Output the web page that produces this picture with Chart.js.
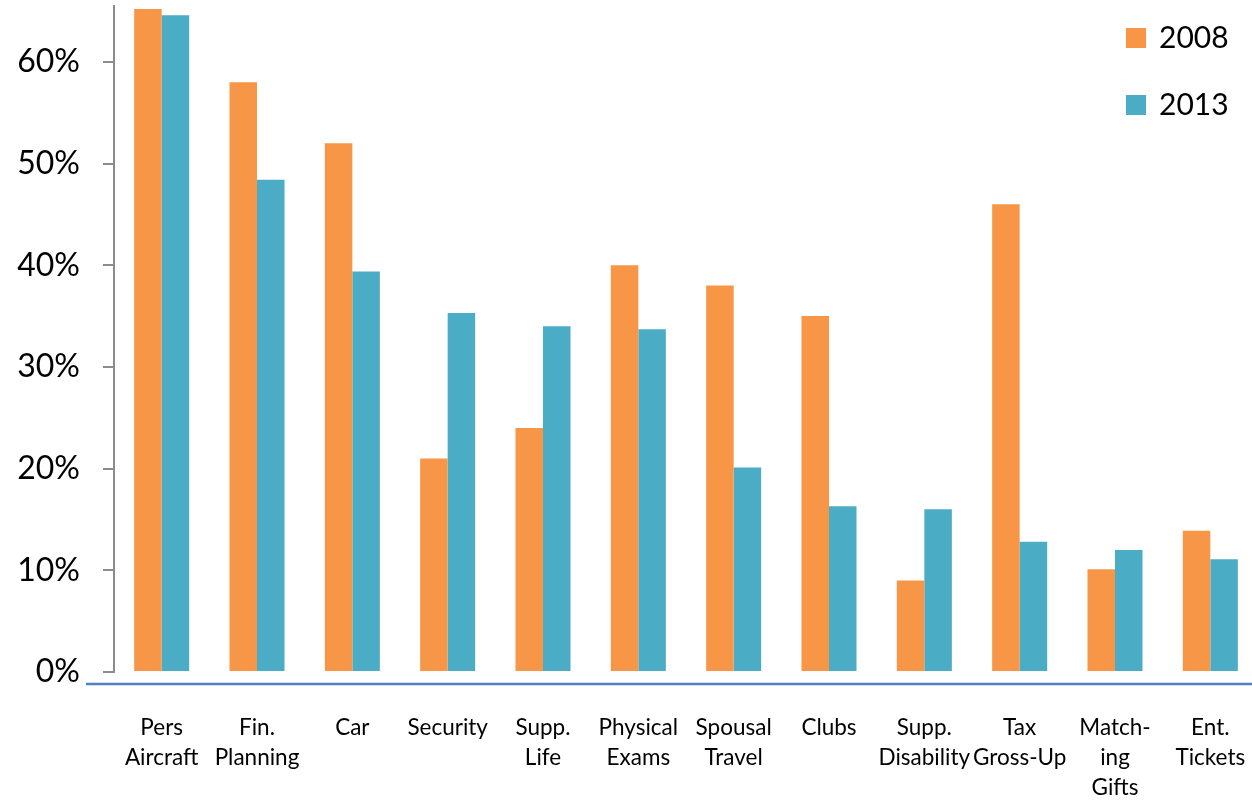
<!DOCTYPE html>
<html lang="en">
<head>
    <meta charset="UTF-8">
    <title>Perquisites 2008 vs 2013</title>
    <script src="https://cdn.jsdelivr.net/npm/chart.js"></script>
    <style>
        html, body { margin: 0; padding: 0; background: #fff; overflow: hidden; }
        #wrap { width: 1258px; height: 805px; }
    </style>
</head>
<body>
    <div id="wrap">
        <canvas id="myChart"></canvas>
    </div>
    <script>
        const categories = [
            ['Pers', 'Aircraft'], ['Fin.', 'Planning'], ['Car'], ['Security'],
            ['Supp.', 'Life'], ['Physical', 'Exams'], ['Spousal', 'Travel'], ['Clubs'],
            ['Supp.', 'Disability'], ['Tax', 'Gross-Up'], ['Match-', 'ing', 'Gifts'], ['Ent.', 'Tickets']
        ];
        const values2008 = [65.2, 58, 52, 21, 24, 40, 38, 35, 9, 46, 10.1, 13.9];
        const values2013 = [64.6, 48.4, 39.4, 35.3, 34, 33.7, 20.1, 16.3, 16, 12.8, 12, 11.1];
        const yTicks = [0, 10, 20, 30, 40, 50, 60];

        const FONT = 'Lato, "Open Sans", sans-serif';

        // blue base line below the bars
        const baseLine = {
            id: 'baseLine',
            afterDraw(chart) {
                const ctx = chart.ctx;
                const y = chart.chartArea.bottom + 12;
                ctx.save();
                ctx.strokeStyle = '#4F81BD';
                ctx.lineWidth = 2.5;
                ctx.beginPath();
                ctx.moveTo(86, y);
                ctx.lineTo(chart.width, y);
                ctx.stroke();
                ctx.restore();
            }
        };

        // vertical legend in the top right corner
        const cornerLegend = {
            id: 'cornerLegend',
            afterDraw(chart) {
                const ctx = chart.ctx;
                ctx.save();
                ctx.font = '30px ' + FONT;
                ctx.textBaseline = 'middle';
                ctx.textAlign = 'left';
                chart.data.datasets.forEach((ds, i) => {
                    const y = 38 + i * 67;
                    ctx.fillStyle = ds.backgroundColor;
                    ctx.fillRect(1126, y - 10, 20, 20);
                    ctx.fillStyle = '#000';
                    ctx.fillText(ds.label, 1159, y);
                });
                ctx.restore();
            }
        };

        const config = {
            type: 'bar',
            data: {
                labels: categories,
                datasets: [
                    { label: '2008', data: values2008, backgroundColor: '#F79646' },
                    { label: '2013', data: values2013, backgroundColor: '#4BACC6' }
                ]
            },
            options: {
                responsive: true,
                maintainAspectRatio: false,
                animation: false,
                layout: { padding: { top: 6, right: 0, left: 0, bottom: 0 } },
                datasets: {
                    bar: { categoryPercentage: 0.577, barPercentage: 1.0 }
                },
                plugins: {
                    legend: { display: false },
                    tooltip: { enabled: false }
                },
                scales: {
                    x: {
                        grid: { display: false, drawTicks: false },
                        border: { display: false },
                        ticks: {
                            color: '#000',
                            font: { family: FONT, size: 22.5, lineHeight: 1.32 },
                            padding: 41,
                            maxRotation: 0,
                            autoSkip: false
                        },
                        afterFit(scale) {
                            scale.height = 133;
                            scale.paddingLeft = 0;
                            scale.paddingRight = 0;
                        }
                    },
                    y: {
                        min: 0,
                        max: 65.5,
                        border: { display: true, color: '#8c8c8c', width: 2 },
                        grid: {
                            drawOnChartArea: false,
                            drawTicks: true,
                            tickLength: 11,
                            color: '#8c8c8c',
                            lineWidth: 2
                        },
                        ticks: {
                            stepSize: 10,
                            color: '#000',
                            padding: 23,
                            font: { family: FONT, size: 32 },
                            callback: v => v + '%'
                        },
                        afterBuildTicks(scale) {
                            scale.ticks = yTicks.map(v => ({ value: v }));
                        },
                        afterFit(scale) {
                            scale.width = 114;
                            scale.paddingTop = 0;
                            scale.paddingBottom = 0;
                        }
                    }
                }
            },
            plugins: [baseLine, cornerLegend]
        };

        const myChart = new Chart(document.getElementById('myChart'), config);
    </script>
</body>
</html>
